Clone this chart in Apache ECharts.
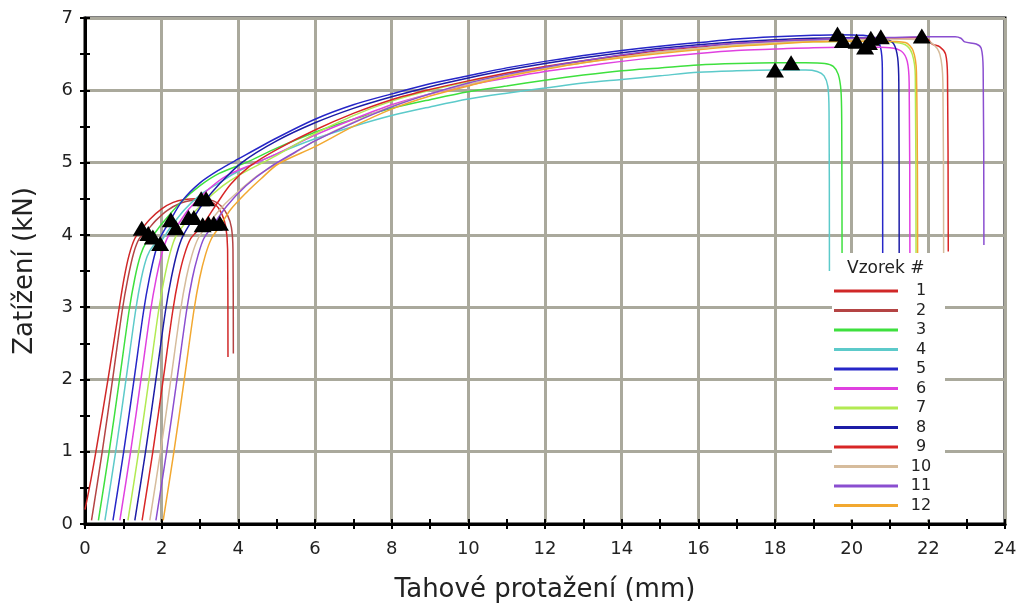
<!DOCTYPE html>
<html><head><meta charset="utf-8">
<script src="https://cdn.jsdelivr.net/npm/echarts@6/dist/echarts.min.js"></script>
<style>html,body{margin:0;padding:0;background:#fff}#c{width:1022px;height:603px}</style>
</head><body><div id="c"></div>
<script>
const sampleNames = ['1','2','3','4','5','6','7','8','9','10','11','12'];
const sampleColors = ['#d02828','#b44444','#3ee03e','#5ccaca','#2626c8','#e040e0','#b2ea52','#1c1ca6','#d82626','#d6bc9c','#8a4ed0','#f2a830'];

const s1 = [[0,0.2],[0.15,0.6],[0.3,1.05],[0.6,2.0],[0.88,2.95],[1.02,3.4],[1.15,3.72],[1.3,3.95],[1.48,4.08],[1.7,4.22],[2.0,4.36],[2.3,4.45],[2.6,4.49],[2.9,4.5],[3.15,4.48],[3.4,4.42],[3.56,4.3],[3.67,4.12],[3.72,3.8],[3.73,2.31]];
const s2 = [[0.17,0.05],[0.45,1.0],[0.72,2.0],[0.97,2.95],[1.12,3.4],[1.27,3.75],[1.42,3.95],[1.62,4.06],[1.85,4.2],[2.15,4.34],[2.5,4.44],[2.8,4.48],[3.1,4.49],[3.35,4.47],[3.55,4.4],[3.72,4.27],[3.82,4.1],[3.86,3.8],[3.87,2.36]];
const s3 = [[0.35,0.05],[0.63,1.0],[0.9,2.0],[1.15,2.95],[1.3,3.4],[1.45,3.72],[1.6,3.9],[1.77,3.99],[2.0,4.15],[2.5,4.45],[3.0,4.68],[3.5,4.85],[4.2,5.0],[5.0,5.2],[6.0,5.42],[7.0,5.6],[8.0,5.75],[9.0,5.87],[10.0,5.98],[11.0,6.06],[12.0,6.14],[13.0,6.21],[14.0,6.27],[15.0,6.31],[16.0,6.35],[17.0,6.37],[18.0,6.38],[18.8,6.38],[19.3,6.37],[19.52,6.33],[19.65,6.22],[19.72,6.0],[19.74,5.6],[19.75,3.5]];
const s4 = [[0.52,0.05],[0.8,1.0],[1.07,2.0],[1.32,2.95],[1.47,3.4],[1.62,3.7],[1.78,3.85],[1.96,3.9],[2.2,4.08],[2.6,4.35],[3.0,4.55],[3.5,4.72],[4.0,4.88],[5.0,5.12],[6.0,5.33],[7.0,5.5],[8.0,5.65],[9.0,5.77],[10.0,5.88],[11.0,5.96],[12.0,6.03],[13.0,6.1],[14.0,6.15],[15.0,6.2],[16.0,6.25],[17.0,6.27],[18.0,6.28],[18.8,6.28],[19.1,6.26],[19.28,6.2],[19.38,6.05],[19.41,5.7],[19.42,3.5]];
const s5 = [[0.73,0.05],[1.01,1.0],[1.28,2.0],[1.53,2.95],[1.68,3.4],[1.83,3.75],[1.98,3.98],[2.2,4.18],[2.55,4.48],[3.0,4.72],[3.5,4.9],[4.0,5.05],[5.0,5.34],[6.0,5.6],[7.0,5.8],[8.0,5.95],[9.0,6.09],[10.0,6.2],[11.0,6.31],[12.0,6.4],[13.0,6.48],[14.0,6.55],[15.0,6.61],[16.0,6.66],[17.0,6.71],[18.0,6.74],[19.0,6.76],[19.63,6.77],[20.3,6.76],[20.6,6.72],[20.75,6.6],[20.8,6.3],[20.81,3.5]];
const s6 = [[0.91,0.05],[1.19,1.0],[1.46,2.0],[1.71,2.95],[1.86,3.4],[2.01,3.75],[2.16,3.97],[2.37,4.1],[2.7,4.35],[3.2,4.62],[3.7,4.82],[4.48,5.0],[5.0,5.12],[6.0,5.38],[7.0,5.6],[8.0,5.8],[9.0,5.95],[10.0,6.07],[11.0,6.17],[12.0,6.26],[13.0,6.33],[14.0,6.4],[15.0,6.46],[16.0,6.51],[17.0,6.55],[18.0,6.57],[19.0,6.59],[20.35,6.6],[21.0,6.59],[21.3,6.54],[21.45,6.4],[21.5,6.1],[21.52,3.5]];
const s7 = [[1.12,0.05],[1.4,1.0],[1.67,2.0],[1.92,2.95],[2.07,3.4],[2.22,3.75],[2.37,3.98],[2.7,4.22],[3.1,4.45],[3.6,4.68],[4.0,4.82],[5.0,5.1],[6.0,5.4],[7.0,5.65],[8.0,5.85],[9.0,6.0],[10.0,6.12],[11.0,6.23],[12.0,6.32],[13.0,6.4],[14.0,6.47],[15.0,6.53],[16.0,6.58],[17.0,6.62],[18.0,6.65],[19.0,6.67],[20.13,6.68],[21.0,6.67],[21.4,6.63],[21.58,6.5],[21.66,6.2],[21.68,3.5]];
const s8 = [[1.3,0.05],[1.58,1.0],[1.85,2.0],[2.1,2.95],[2.25,3.4],[2.4,3.75],[2.55,3.98],[2.84,4.24],[3.1,4.45],[3.5,4.7],[4.09,5.0],[5.0,5.3],[6.0,5.55],[7.0,5.75],[8.0,5.91],[9.0,6.05],[10.0,6.17],[11.0,6.28],[12.0,6.37],[13.0,6.45],[14.0,6.52],[15.0,6.58],[16.0,6.63],[17.0,6.67],[18.0,6.7],[19.0,6.72],[20.5,6.73],[20.9,6.71],[21.1,6.64],[21.2,6.45],[21.23,6.1],[21.24,3.5]];
const s9 = [[1.49,0.05],[1.77,1.0],[2.04,2.0],[2.29,2.95],[2.44,3.4],[2.59,3.72],[2.76,3.95],[3.05,4.12],[3.4,4.4],[3.8,4.7],[4.3,4.95],[5.0,5.18],[6.0,5.45],[7.0,5.68],[8.0,5.87],[9.0,6.01],[10.0,6.13],[11.0,6.24],[12.0,6.33],[13.0,6.41],[14.0,6.48],[15.0,6.55],[16.0,6.6],[17.0,6.65],[18.0,6.68],[19.0,6.7],[20.0,6.71],[21.0,6.72],[21.83,6.73],[22.0,6.7],[22.1,6.64],[22.3,6.6],[22.45,6.5],[22.5,6.2],[22.52,3.77]];
const s10 = [[1.69,0.05],[1.97,1.0],[2.24,2.0],[2.49,2.95],[2.64,3.4],[2.79,3.72],[2.95,3.95],[3.2,4.14],[3.6,4.4],[4.0,4.6],[4.5,4.82],[5.0,4.98],[6.0,5.3],[7.0,5.56],[8.0,5.78],[9.0,5.95],[10.0,6.08],[11.0,6.2],[12.0,6.3],[13.0,6.38],[14.0,6.46],[15.0,6.53],[16.0,6.58],[17.0,6.63],[18.0,6.66],[19.0,6.69],[20.0,6.7],[21.0,6.71],[21.8,6.7],[22.1,6.65],[22.3,6.5],[22.38,6.1],[22.4,3.58]];
const s11 = [[1.85,0.05],[2.13,1.0],[2.4,2.0],[2.65,2.95],[2.8,3.4],[2.95,3.72],[3.1,3.95],[3.35,4.14],[3.7,4.4],[4.2,4.68],[4.78,4.92],[5.5,5.15],[6.0,5.3],[7.0,5.55],[8.0,5.77],[9.0,5.95],[10.0,6.1],[11.0,6.22],[12.0,6.32],[13.0,6.41],[14.0,6.49],[15.0,6.56],[16.0,6.61],[17.0,6.65],[18.0,6.68],[19.0,6.7],[20.0,6.72],[21.0,6.73],[22.0,6.74],[22.7,6.74],[22.85,6.72],[22.95,6.67],[23.25,6.64],[23.38,6.58],[23.43,6.3],[23.45,3.86]];
const s12 = [[2.04,0.05],[2.32,1.0],[2.59,2.0],[2.84,2.95],[2.99,3.4],[3.14,3.72],[3.3,3.95],[3.52,4.12],[3.8,4.35],[4.2,4.58],[4.6,4.78],[5.04,4.98],[6.0,5.22],[7.0,5.5],[8.0,5.74],[9.0,5.92],[10.0,6.06],[11.0,6.19],[12.0,6.29],[13.0,6.38],[14.0,6.45],[15.0,6.51],[16.0,6.56],[17.0,6.61],[18.0,6.64],[19.0,6.67],[19.77,6.68],[20.8,6.68],[21.4,6.66],[21.6,6.55],[21.69,6.25],[21.72,3.5]];

const yieldMarks = [[1.48,4.09],[1.65,4.02],[1.77,3.97],[1.96,3.88],[2.24,4.21],[2.37,4.10],[2.70,4.24],[2.84,4.24],[3.07,4.14],[3.22,4.16],[3.36,4.16],[3.52,4.16],[3.03,4.5],[3.16,4.5]];
const maxMarks = [[18.0,6.28],[18.42,6.38],[19.63,6.78],[19.77,6.69],[20.13,6.68],[20.35,6.6],[20.45,6.66],[20.5,6.72],[20.76,6.74],[21.83,6.75]];

const xMin = 0, xMax = 24, xStep = 2, yMin = 0, yMax = 7, yStep = 1;
const curves = [s1,s2,s3,s4,s5,s6,s7,s8,s9,s10,s11,s12];
const FONT = 'DejaVu Sans';

const series = curves.map((d, i) => ({
  name: sampleNames[i], type: 'line', data: d, showSymbol: false, symbol: 'none',
  smooth: 0.3,
  lineStyle: { color: sampleColors[i], width: 1.5 }, itemStyle: { color: sampleColors[i] },
  z: 3, animation: false
}));
series.push({
  type: 'scatter', data: yieldMarks.concat(maxMarks), symbol: 'triangle', symbolSize: [18, 15],
  itemStyle: { color: '#000', opacity: 1 }, z: 5, animation: false, silent: true
});

const chart = echarts.init(document.getElementById('c'));
chart.setOption({
  backgroundColor: '#fff',
  animation: false,
  title: { text: 'Vzorek #', left: 842, top: 255, textStyle: { fontFamily: FONT, fontSize: 17, fontWeight: 'normal', color: '#222' } },
  legend: {
    orient: 'vertical', left: 832, top: 253, data: sampleNames,
    backgroundColor: '#fff', padding: [30, 6, 6, 2],
    itemWidth: 64, itemHeight: 3, itemGap: 3.5, icon: 'rect',
    formatter: '{a|{name}}',
    textStyle: { fontFamily: FONT, fontSize: 16, color: '#222', lineHeight: 16,
      rich: { a: { width: 36, align: 'center', fontFamily: FONT, fontSize: 16, lineHeight: 16 } } }
  },
  grid: { left: 85, right: 17, top: 18, bottom: 79, outerBoundsMode: 'none', containLabel: false, show: true, borderColor: '#000', borderWidth: 3, backgroundColor: '#fff' },
  xAxis: [{
    type: 'value', min: xMin, max: xMax, interval: xStep,
    name: 'Tahové protažení (mm)', nameLocation: 'middle', nameGap: 53,
    nameTextStyle: { fontFamily: FONT, fontSize: 26, color: '#222' },
    axisLine: { lineStyle: { color: '#000', width: 3 } },
    axisTick: { show: true, length: 5, lineStyle: { color: '#000', width: 2 } },
    minorTick: { show: true, splitNumber: 2, length: 5, lineStyle: { color: '#000', width: 2 } },
    axisLabel: { fontFamily: FONT, fontSize: 18, color: '#222', margin: 16 },
    splitLine: { show: true, lineStyle: { color: '#aaa99c', width: 3 } }
  }, {
    type: 'value', min: xMin, max: xMax, interval: 1, position: 'bottom',
    axisLine: { show: false }, axisLabel: { show: false }, splitLine: { show: false },
    axisTick: { show: true, inside: true, length: 5, lineStyle: { color: '#000', width: 2 } }
  }],
  yAxis: [{
    type: 'value', min: yMin, max: yMax, interval: yStep,
    name: 'Zatížení (kN)', nameLocation: 'middle', nameGap: 47,
    nameTextStyle: { fontFamily: FONT, fontSize: 26, color: '#222' },
    axisLine: { lineStyle: { color: '#000', width: 3 } },
    axisTick: { show: true, length: 5, lineStyle: { color: '#000', width: 2 } },
    minorTick: { show: true, splitNumber: 2, length: 5, lineStyle: { color: '#000', width: 2 } },
    axisLabel: { fontFamily: FONT, fontSize: 18, color: '#222', margin: 12 },
    splitLine: { show: true, lineStyle: { color: '#aaa99c', width: 3 } }
  }, {
    type: 'value', min: yMin, max: yMax, interval: 0.5, position: 'left',
    axisLine: { show: false }, axisLabel: { show: false }, splitLine: { show: false },
    axisTick: { show: true, inside: true, length: 5, lineStyle: { color: '#000', width: 2 } }
  }],
  series: series
});
</script></body></html>
